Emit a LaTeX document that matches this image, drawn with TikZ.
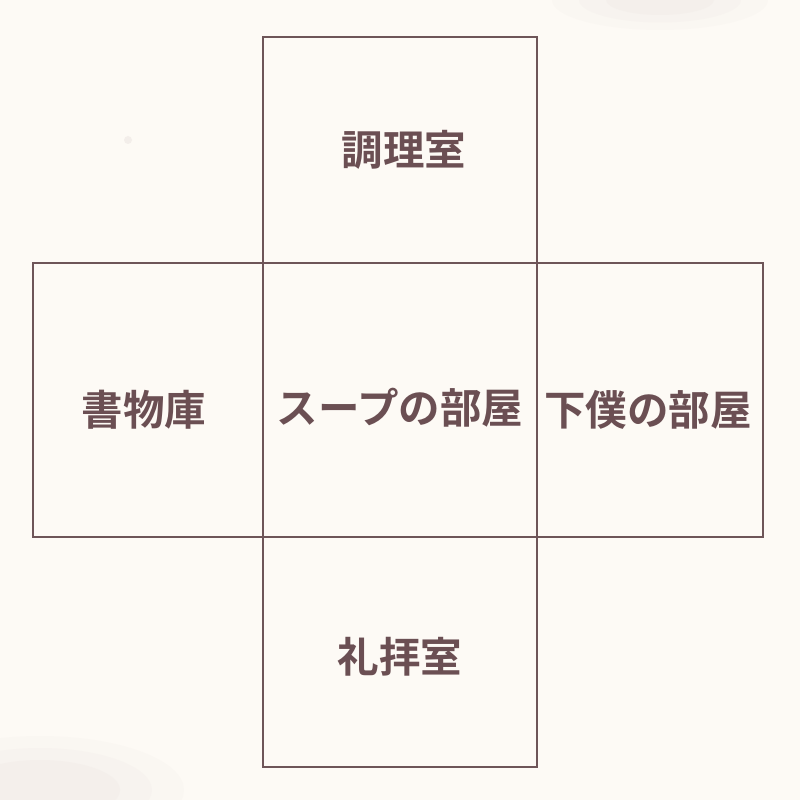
\documentclass[tikz,border=0pt]{standalone}
\usepackage{fontspec}
\newfontfamily\jpfont{Noto Sans CJK JP}[BoldFont={* Bold}]

\definecolor{paper}{HTML}{FDFAF5}
\definecolor{wall}{HTML}{6E5558}
\definecolor{ink}{HTML}{6B4F53}
\definecolor{smudge}{HTML}{E6DDDA}

\tikzset{
  room/.style={draw=wall,line width=1.5pt},
  roomname/.style={text=ink,font=\jpfont\bfseries\fontsize{29.5}{31}\selectfont,inner sep=0pt}
}

\begin{document}
\begin{tikzpicture}[x=0.025cm,y=-0.025cm]

% Paper
\fill[paper] (0,0) rectangle (800,800);
\useasboundingbox (0,0) rectangle (800,800);

% Faint smudges
\foreach \r/\o in {90/0.10,70/0.12,50/0.15}
  \fill[smudge,opacity=\o] (40,790) ellipse ({1.6*\r} and {0.6*\r});
\foreach \r/\o in {60/0.10,45/0.12,30/0.15}
  \fill[smudge,opacity=\o] (660,0) ellipse ({1.8*\r} and {0.5*\r});
\fill[smudge,opacity=0.4] (128,140) circle (4);

% The five rooms
\draw[room] (263,37) rectangle (537,263);
\draw[room] (33,263) rectangle (263,537);
\draw[room] (263,263) rectangle (537,537);
\draw[room] (537,263) rectangle (763,537);
\draw[room] (263,537) rectangle (537,767);

% Names
\node[roomname] (kitchen) at (404,150) {調理室};
\node[roomname] (library) at (144,410) {書物庫};
\node[roomname] (soup)    at (400,408) {スープの部屋};
\node[roomname] (servant) at (648,410) {下僕の部屋};
\node[roomname] (chapel)  at (400,657) {礼拝室};

\end{tikzpicture}
\end{document}
